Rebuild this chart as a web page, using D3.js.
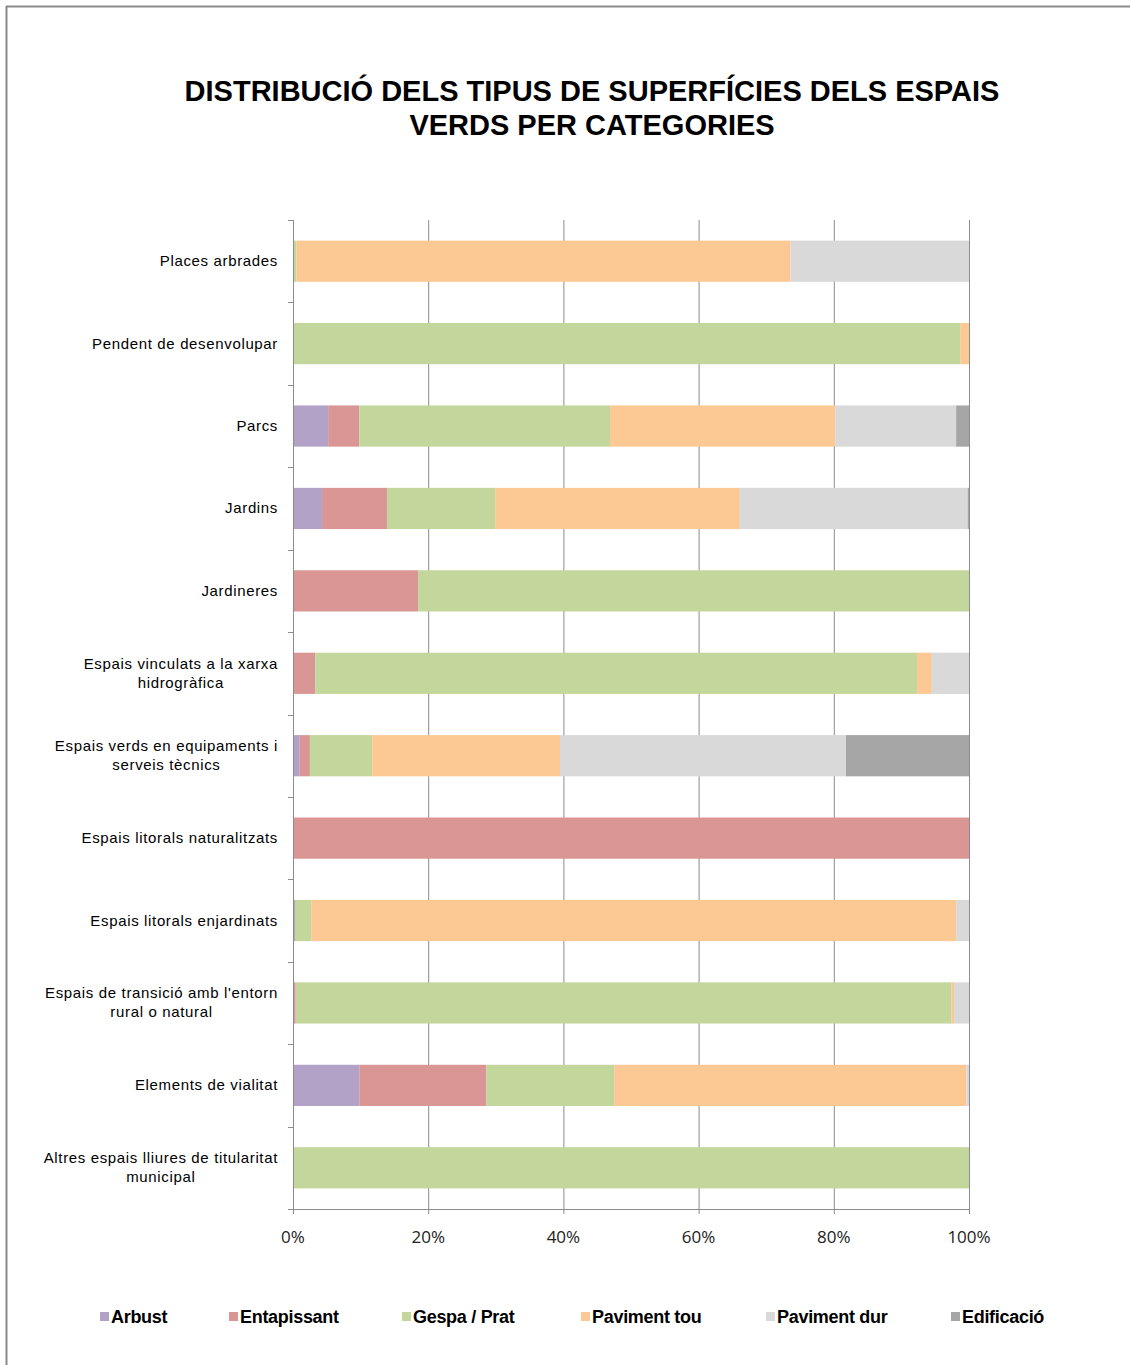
<!DOCTYPE html>
<html><head><meta charset="utf-8">
<script src="https://cdn.jsdelivr.net/npm/d3@7"></script>
<style>
html,body{margin:0;padding:0;background:#fff;}
svg{display:block;}
</style></head>
<body>
<svg id="chart" width="1130" height="1365"></svg>
<script>
const categories = [
  "Places arbrades",
  "Pendent de desenvolupar",
  "Parcs",
  "Jardins",
  "Jardineres",
  "Espais vinculats a la xarxa|hidrogràfica",
  "Espais verds en equipaments i|serveis tècnics",
  "Espais litorals naturalitzats",
  "Espais litorals enjardinats",
  "Espais de transició amb l'entorn|rural o natural",
  "Elements de vialitat",
  "Altres espais lliures de titularitat|municipal"
];
const seriesNames = ["Arbust","Entapissant","Gespa / Prat","Paviment tou","Paviment dur","Edificació"];
const arbust      = [0,   0,    5.2, 4.3, 0,    0,    1.0, 0,   0.3, 0,    9.8, 0];
const entapissant = [0,   0,    4.6, 9.6, 18.5, 3.3,  1.5, 100, 0,   0.4,  18.8, 0];
const gespa       = [0.5, 98.7, 37.1,16.0,81.5, 89.0, 9.2, 0,   2.4, 97.0, 18.9, 100];
const pavTou      = [73.1,1.3,  33.3,36.2,0,    2.2,  27.8,0,   95.4,0.4,  52.1, 0];
const pavDur      = [26.4,0,    17.9,33.7,0,    5.5,  42.3,0,   1.9, 2.2,  0.4,  0];
const edificacio  = [0,   0,    1.9, 0.2, 0,    0,    18.2,0,   0,   0,    0,    0];
const tickLabels = ["0%","20%","40%","60%","80%","100%"];
const colors = ["#b3a2c7","#d99694","#c3d69b","#fcc894","#d9d9d9","#a6a6a6"];

const seriesValues = [arbust, entapissant, gespa, pavTou, pavDur, edificacio];
const rows = categories.map((c,i)=>{
  const r = {cat:c};
  seriesNames.forEach((s,j)=> r[s] = seriesValues[j][i]);
  return r;
});

const svg = d3.select("#chart");
const W = 1130, H = 1365;
svg.append("line").attr("x1",6).attr("x2",W).attr("y1",6.5).attr("y2",6.5).attr("stroke","#8a8a8a").attr("stroke-width",2);
svg.append("line").attr("x1",6.5).attr("x2",6.5).attr("y1",6).attr("y2",H).attr("stroke","#8a8a8a").attr("stroke-width",2);

const title = svg.append("text").attr("text-anchor","middle")
  .attr("font-family","Liberation Sans, Arial, sans-serif").attr("font-weight","bold")
  .attr("font-size",29).attr("fill","#000");
title.append("tspan").attr("x",592).attr("y",101).text("DISTRIBUCIÓ DELS TIPUS DE SUPERFÍCIES DELS ESPAIS");
title.append("tspan").attr("x",592).attr("y",135).text("VERDS PER CATEGORIES");

const pLeft = 293, pRight = 969, pTop = 220, pBottom = 1209;
const x = d3.scaleLinear().domain([0,100]).range([pLeft,pRight]);
const y = d3.scaleBand().domain(categories).range([pTop,pBottom]).paddingInner(0.5).paddingOuter(0.25);

const g = svg.append("g");
g.selectAll("line").data(d3.range(20,101,20)).join("line")
  .attr("x1",d=>x(d)+0.5).attr("x2",d=>x(d)+0.5).attr("y1",pTop).attr("y2",pBottom)
  .attr("stroke","#8c8c8c").attr("stroke-width",1);

const stack = d3.stack().keys(seriesNames)(rows);
svg.append("g").selectAll("g").data(stack).join("g")
  .attr("fill",(d,i)=>colors[i])
  .selectAll("rect").data(d=>d).join("rect")
  .attr("x",d=>x(d[0])).attr("width",d=>Math.max(0,x(d[1])-x(d[0])))
  .attr("y",d=>y(d.data.cat)).attr("height",y.bandwidth());

const ax = svg.append("g");
ax.append("line").attr("x1",pLeft+0.5).attr("x2",pLeft+0.5).attr("y1",pTop).attr("y2",pBottom+5).attr("stroke","#8c8c8c");
const step = (pBottom-pTop)/categories.length;
ax.append("g").selectAll("line").data(d3.range(0,categories.length+1)).join("line")
  .attr("x1",pLeft-5).attr("x2",pLeft).attr("y1",d=>Math.round(pTop+d*step)+0.5).attr("y2",d=>Math.round(pTop+d*step)+0.5)
  .attr("stroke","#8c8c8c");
ax.append("line").attr("x1",pLeft-5).attr("x2",pRight+0.5).attr("y1",pBottom+0.5).attr("y2",pBottom+0.5).attr("stroke","#8c8c8c");
ax.append("g").selectAll("line").data(d3.range(0,101,20)).join("line")
  .attr("x1",d=>x(d)+0.5).attr("x2",d=>x(d)+0.5).attr("y1",pBottom).attr("y2",pBottom+5).attr("stroke","#8c8c8c");
ax.append("g").selectAll("text").data(tickLabels).join("text")
  .attr("x",(d,i)=>x(i*20)).attr("y",1243).attr("text-anchor","middle")
  .attr("font-family","Open Sans, sans-serif").attr("font-size",17).attr("fill","#222").text(d=>d);

const LS = 0.65;
const labG = svg.append("g").attr("font-family","Liberation Sans, Arial, sans-serif").attr("font-size",15).attr("fill","#000");
categories.forEach(c=>{
  const lines = c.split("|");
  const cy = y(c)+y.bandwidth()/2;
  const rightEdge = 278;
  if(lines.length===1){
    labG.append("text").attr("x",rightEdge).attr("y",cy+5).attr("text-anchor","end").attr("letter-spacing",LS).text(lines[0]);
  } else {
    const widths = lines.map(l=>{const e=labG.append("text").attr("letter-spacing",LS).text(l); const w=e.node().getComputedTextLength(); e.remove(); return w;});
    const maxW = d3.max(widths);
    const cx = rightEdge - maxW/2;
    const t = labG.append("text").attr("text-anchor","middle").attr("letter-spacing",LS);
    lines.forEach((l,k)=>{
      t.append("tspan").attr("x",cx).attr("y",cy+5+(k-0.5)*19).text(l);
    });
  }
});

const legX = [100,229,402,581,766,951];
const lg = svg.append("g");
seriesNames.forEach((s,i)=>{
  lg.append("rect").attr("x",legX[i]).attr("y",1312).attr("width",9).attr("height",9).attr("fill",colors[i]);
  lg.append("text").attr("x",legX[i]+11).attr("y",1323)
    .attr("font-family","Liberation Sans Narrow, Liberation Sans, Arial, sans-serif").attr("font-size",18)
    .attr("font-weight","bold").attr("letter-spacing",-0.3)
    .attr("fill","#000").text(s);
});
</script>
</body></html>
